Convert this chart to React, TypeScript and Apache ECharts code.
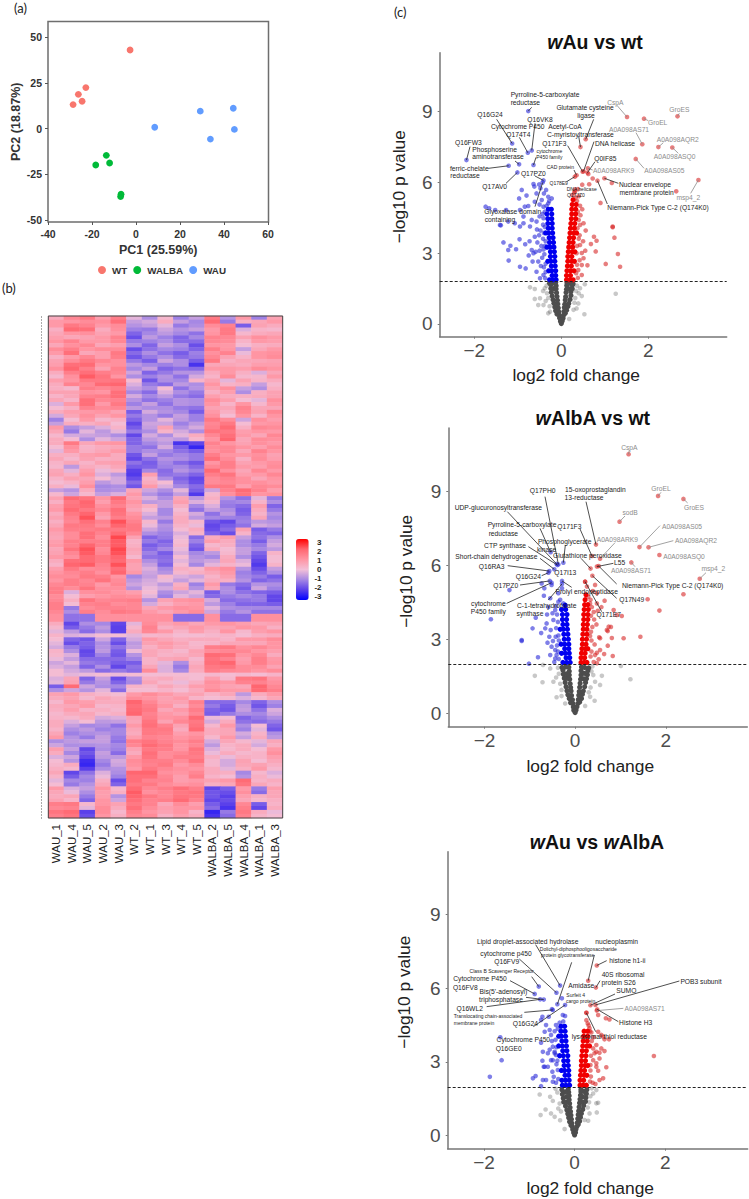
import React, { useEffect, useRef } from "react";
import * as echarts from "echarts";

const FONT = '"Liberation Sans", Arial, sans-serif';

// ---------- PCA ----------
const pcaWT = [[-2.7, 43], [-22.8, 22.4], [-26.2, 18.7], [-24.5, 14.9], [-28.6, 13.1]];
const pcaWALBA = [[-13.5, -14.7], [-12, -18.9], [-18.3, -20], [-6.8, -36], [-7, -37.3]];
const pcaWAU = [[8.5, 0.7], [29.2, 9.5], [44.2, 11.1], [44.7, -0.5], [33.8, -5.8]];
const pcaXTicks = [-40, -20, 0, 20, 40, 60];
const pcaYTicks = [-50, -25, 0, 25, 50];

// ---------- Heatmap ----------
const sampleNames = ["WAU_1", "WAU_4", "WAU_5", "WAU_2", "WAU_3", "WT_2", "WT_1", "WT_3", "WT_4", "WT_5", "WALBA_2", "WALBA_5", "WALBA_4", "WALBA_1", "WALBA_3"];
const heatTop = [
  [.5, 1.3, 1.6, .8, 1.5, -.2, -.9, .2, -1.1, -.6, 1.6, -.8, .9, -1.1, .7],
  [.9, 1.6, 1.4, .9, 1.2, -.8, -.6, -.2, -1.2, -.9, 1.2, 1.4, -1.6, .7, .5],
  [.6, 1.0, 1.1, .7, .9, -1.5, -1.0, -.7, -1.0, -1.3, 1.0, 1.6, .2, .5, .6],
  [1.0, 1.4, .9, .9, 1.3, -1.2, -1.1, -.9, -1.4, -1.4, 1.3, 1.2, .3, .9, .8],
  [1.2, 1.5, 1.0, 1.2, 1.2, -1.8, -1.3, -1.0, -1.1, -1.5, 1.5, 1.0, -.6, .6, .9],
  [.4, .9, 1.3, .8, 1.5, -1.7, -1.2, -.9, -1.4, -1.2, 1.3, .7, .3, 1.0, 1.2],
  [.8, 1.8, 1.9, 1.0, 1.1, -.7, -1.0, -1.1, -.9, -2.2, .6, .6, .5, .8, .8],
  [.5, 1.5, 1.8, 1.5, 1.3, -.5, -1.5, -1.2, -.8, -.8, .5, .9, .4, -.3, .6],
  [.8, 1.0, 1.6, 1.6, 1.7, .1, -1.7, -.9, -1.0, .3, .7, -.2, .7, .3, .5],
  [.4, .2, 1.5, 1.3, 1.5, -.6, -.9, .1, -1.3, -.8, .7, 1.1, -.6, -.9, .4],
  [.3, .6, 1.4, 1.5, 1.8, -.4, -1.0, -.7, -1.2, -1.4, .8, .5, .4, .5, .7],
  [-.3, .9, 1.8, .9, 1.6, -1.1, -.6, -1.3, -.8, -.9, 1.0, .3, 1.0, .2, .9],
  [.5, .8, .9, 1.0, .7, -1.6, -.4, -.8, -1.0, -1.6, .9, .4, 1.3, .7, 1.3],
  [-1.1, .1, .9, .2, .4, -1.5, -.8, -.2, -.7, -1.1, 1.6, 1.2, -.5, 1.1, .8],
  [.9, -.9, -.6, -.3, .3, -1.6, -.6, .7, -.8, -.4, 1.4, 1.9, .4, 1.3, 1.2],
  [.2, -.4, -.5, -.6, -.9, -1.9, -.4, -.9, -.2, .5, 1.3, 1.8, .9, .6, 1.3],
  [.5, 1.6, .6, .9, 1.0, -1.5, -1.0, -.7, -2.2, -1.9, 1.4, 1.0, .7, 1.1, .9],
  [-.2, .9, .4, .6, .9, -1.2, -.9, -1.0, -1.3, -1.6, 1.1, 1.3, .6, 1.4, 1.0],
  [.6, .2, .7, .4, .5, -1.9, -1.3, -.8, -.9, -1.2, 1.8, 1.2, .4, 1.2, .8],
  [.2, -.7, .5, .3, .6, -1.6, -1.5, -1.1, -1.0, -1.4, 1.3, 1.5, .9, .8, 1.2],
  [.7, .4, 1.0, -.3, -.7, -2.1, .8, -1.3, -1.2, -1.5, 1.5, 1.7, .8, .9, 1.3],
  [.1, .3, .8, -.7, -.4, -1.4, .5, .1, -1.3, -1.8, 1.2, 1.3, 1.1, 1.1, .9],
  [-.6, -.8, .5, -.9, -.8, .6, -.5, -.9, -.2, -1.6, -.5, 1.4, 1.9, 1.4, .8],
];
const heatTopB = [
  [.9, 1.0, 1.2, 1.1, 1.8, -.6, -.4, .5, -.6, -1.0, 1.9, -1.2, .4, .6, .9],
  [.4, 1.9, 1.8, .5, 1.1, -1.1, -1.2, -.5, -.8, -.6, .9, 1.6, -.3, .3, .2],
  [.8, .6, .7, .9, 1.4, -1.8, -.7, -1.1, -1.5, -1.0, 1.4, 1.3, .7, 1.1, .9],
  [.6, 1.1, 1.3, .6, .8, -.9, -1.5, -.6, -.9, -1.8, 1.0, .9, .1, .4, .5],
  [.9, 1.8, .6, .8, 1.6, -1.4, -.9, -1.3, -1.6, -1.1, 1.1, 1.4, -.1, 1.0, 1.1],
  [.7, 1.2, 1.6, 1.3, 1.1, -1.2, -1.6, -.5, -.9, -1.6, 1.6, .4, .6, .6, .7],
  [1.1, 2.0, 1.5, .7, 1.4, -1.0, -.6, -1.5, -1.3, -1.4, .9, .9, .8, 1.2, 1.0],
  [.2, 1.1, 2.1, 1.7, 1.0, -.9, -1.1, -.8, -1.3, -.4, .3, 1.2, .2, .2, .9],
  [.5, 1.4, 1.3, 1.9, 2.0, -.3, -1.2, -1.4, -.7, -.9, 1.0, .3, .4, -.6, .2],
  [.7, .7, 1.1, 1.0, 1.8, -1.0, -1.4, -.3, -.9, -1.2, .4, .8, -.9, .4, .7],
  [.6, .3, 1.8, 1.3, 1.4, -.8, -1.3, -1.1, -.8, -.9, 1.2, .8, .1, -.2, 1.1],
  [.1, .4, 1.4, 1.2, 1.3, -.7, -.9, -.9, -1.2, -1.3, .7, .6, 1.4, .6, .6],
  [-.4, .6, 1.1, .7, 1.0, -1.2, -.8, -1.2, -.6, -1.1, 1.1, .1, 1.0, .3, 1.0],
  [-.6, .5, .4, .6, .1, -1.9, -.5, -.5, -1.1, -.7, 1.3, 1.6, .1, .9, 1.0],
  [.6, -1.2, -.2, -.7, -.2, -1.2, -.9, .3, -.4, -.9, 1.7, 1.6, .8, 1.0, .9],
  [.5, .1, -.9, -.2, -.5, -1.5, -.7, -.5, -.7, .2, 1.0, 2.0, .6, 1.2, 1.1],
  [.1, 1.1, .3, .5, .6, -1.2, -1.3, -.4, -1.6, -2.4, 1.2, 1.3, 1.0, .8, 1.2],
  [.4, .4, .8, .9, .5, -1.7, -.6, -1.2, -1.0, -1.2, 1.5, 1.0, .9, 1.1, .7],
  [.3, .6, .3, .7, .8, -1.3, -1.6, -1.0, -1.4, -1.7, 1.0, 1.5, .7, .9, 1.1],
  [.6, -.2, .8, -.1, .3, -2.0, -1.0, -1.4, -.8, -1.1, 1.9, 1.1, .6, 1.3, .9],
  [.3, .7, .6, .1, -.4, -1.8, .3, -.9, -1.5, -1.9, 1.2, 1.4, 1.1, .6, 1.0],
  [.4, -.1, 1.1, -1.0, -.9, -1.7, .9, -.3, -1.0, -1.4, 1.6, 1.6, .8, 1.3, 1.2],
  [.2, -.5, .2, -.6, -.3, .9, -.8, -1.2, -.6, -2.1, .2, 1.1, 1.7, 1.0, 1.1],
];
const heatMiddle = [
  [.7, 1.9, 1.7, 1.0, 1.9, .7, -.3, -.9, .6, -.7, .4, -.8, -1.3, -.2, -1.2],
  [.8, 1.7, 1.9, 1.1, 1.4, .8, .4, -.6, .4, -1.0, -.3, -1.2, -1.4, .8, -1.5],
  [.5, 1.6, 2.0, .9, 1.7, 1.0, -.3, -1.0, .3, -.4, -1.3, -.7, -1.5, .3, -.8],
  [.4, 1.3, 1.8, 1.4, 2.2, 1.4, .2, -1.2, .5, .2, -1.7, -1.9, -1.1, -.7, -.8],
  [.9, 1.5, 1.5, 1.6, 1.6, 1.6, -.5, -.9, .1, .5, -1.8, -1.4, .7, -1.6, -1.2],
  [.6, 1.2, 1.8, 1.2, 2.3, .7, -1.5, -1.2, -.1, -1.4, .5, .8, -.6, -1.3, -.9],
  [.9, 1.4, 2.0, 1.5, 2.1, .4, -1.6, -1.3, .2, -1.5, .2, .4, -.9, -1.2, -.4],
  [.7, 1.3, 2.1, 1.3, 2.2, .5, -1.1, -1.6, -.3, -1.0, -.7, .2, -.6, -1.5, .3],
  [.5, 1.8, 1.9, 1.6, 1.9, .9, -.9, -1.3, -.2, -.7, -.5, .6, -.3, -1.9, .1],
  [.8, 1.6, 1.2, 1.3, 1.8, .7, -.3, -1.0, .4, .2, .9, 1.1, -.8, -1.8, -.6],
  [1.2, 1.2, 1.6, 1.5, 1.0, -1.0, -.6, .2, -.3, -.5, .3, .7, -1.0, -1.2, -1.6],
  [1.3, 1.5, 1.4, .9, 1.3, -.5, -.3, -.7, .4, -1.1, .9, -1.2, -1.4, -.8, -.9],
  [1.5, -.3, 1.1, 1.2, 1.0, .8, .1, -.9, -.5, -.2, -1.6, -.9, -1.3, -1.5, -1.6],
  [1.3, .4, 1.7, 1.3, 1.4, 1.5, -.8, .7, 1.0, 1.1, -.4, -1.4, -1.3, -1.2, -1.9],
  [1.5, -1.2, 1.2, 1.4, 1.4, 1.3, .6, .9, 1.1, 1.0, -.2, -.9, -1.0, -1.0, -1.0],
  [1.1, -1.3, -1.3, 1.1, 1.1, 1.1, 1.1, 1.1, -1.4, -1.4, 1.1, -1.4, -1.4, 1.1, 1.1],
];
const heatMiddleB = [
  [.4, 1.6, 2.0, .8, 1.6, 1.0, -.7, -.6, .8, -.3, .2, -1.1, -1.0, .3, -.9],
  [.9, 1.9, 1.6, 1.3, 1.8, .6, .1, -1.0, .1, -1.3, -.6, -.9, -1.6, .5, -1.2],
  [.7, 1.4, 2.2, .7, 1.5, 1.2, -.6, -.7, .5, -.7, -1.0, -1.1, -1.2, .6, -1.0],
  [.6, 1.6, 1.6, 1.2, 2.0, 1.6, -.1, -.8, .3, -.1, -1.9, -1.6, -1.3, -.4, -.6],
  [.7, 1.2, 1.8, 1.4, 1.9, 1.3, -.9, -1.1, -.3, .3, -1.5, -1.8, .3, -1.4, -1.5],
  [.8, 1.5, 1.5, 1.5, 2.1, .3, -1.2, -1.5, .1, -1.1, .8, .5, -.9, -1.6, -.6],
  [.6, 1.7, 2.2, 1.2, 2.3, .6, -1.4, -1.0, -.1, -1.7, .5, .1, -.6, -1.0, -.7],
  [.9, 1.1, 1.9, 1.6, 2.0, .2, -1.3, -1.4, .1, -.8, -1.0, .5, -.9, -1.7, .1],
  [.3, 2.0, 2.1, 1.4, 2.2, .7, -.6, -1.5, .1, -1.0, -.2, .3, -.1, -2.1, .3],
  [1.0, 1.3, 1.5, 1.1, 2.0, .9, -.5, -.8, .2, .4, .6, .9, -1.1, -1.5, -.9],
  [1.0, 1.5, 1.3, 1.7, 1.2, -.7, -.4, -.1, -.6, -.2, .5, .4, -.8, -1.5, -1.3],
  [1.5, 1.2, 1.7, 1.1, 1.1, -.8, -.1, -.4, .6, -.8, .6, -.9, -1.6, -.5, -1.1],
  [1.2, .1, .8, 1.0, 1.2, 1.1, -.2, -1.1, -.2, -.5, -1.4, -1.2, -1.0, -1.2, -1.9],
  [1.5, .1, 1.4, 1.5, 1.2, 1.3, -.4, .4, .8, .9, -.7, -1.1, -1.5, -1.5, -1.6],
  [1.3, -.9, 1.5, 1.2, 1.6, 1.5, .9, .6, .9, 1.2, -.5, -1.2, -.8, -1.3, -1.3],
  [1.1, -1.3, -1.3, 1.1, 1.1, 1.1, 1.1, 1.1, -1.4, -1.4, 1.1, -1.4, -1.4, 1.1, 1.1],
];
const heatBottom = [
  [.5, -1.9, -.9, -1.0, -1.9, -.2, 1.2, .7, .9, .6, .9, 1.0, .8, .6, .7],
  [-.2, -.7, -1.4, -.9, -2, .5, 1.3, .9, .3, .8, .4, 1.0, .2, .8, 1.0],
  [.1, -1.5, -1.7, -.5, -1.5, -.4, .9, .6, .4, .5, .5, .3, .9, .9, 1.2],
  [-.4, -1.2, -1.6, -.8, -1.3, -.6, .4, .8, .5, .3, 1.5, 1.6, 1.1, 1.3, 1.0],
  [.2, -.3, -1.8, -1.1, -1.7, -.8, .6, .3, .4, .6, 1.9, 1.8, 1.0, 1.3, .5],
  [-.5, -.2, -1.2, -1.3, -1.6, -1.6, .3, -.2, -.9, .4, 1.8, 2.0, .9, 1.5, 1.0],
  [.1, -.4, -.7, -1.4, -1.2, -1.4, 1.2, -.3, -1.0, .5, 1.5, 1.3, 1.2, 1.0, 1.2],
  [-.3, .6, -1.5, -.6, -1.8, -.9, .4, .5, .2, .1, .8, .2, 1.6, 1.7, .9],
  [-1.6, 1.9, -.5, -.9, -1.0, .3, .2, .6, .3, .8, 1.0, .7, .6, 2.0, 1.3],
  [.7, .9, .4, .2, .1, .9, 1.2, .9, .6, .7, .3, .6, -.7, .5, .9],
  [.2, .9, .8, .5, .5, 2.0, 1.3, .8, .7, 1.4, -1.4, -1.4, -1.0, -1.5, -.9],
  [.4, .8, .3, .4, .2, 1.9, 1.6, .6, .9, 1.5, -1.5, -1.7, -.6, -1.3, -.3],
  [.3, .2, .5, -.4, -.3, .7, 1.5, 1.0, 1.1, 1.9, -.1, .1, -1.5, -1.2, -.9],
  [.5, -.6, -1.0, -.9, -1.3, .9, 1.8, 1.4, .7, 1.7, .2, .9, -.9, .1, -1.5],
  [.6, -1.1, -.9, -.8, -1.0, .5, 1.6, 1.5, .8, 1.0, .5, .6, -.4, .3, -.9],
  [-.9, -.7, -.6, -.6, -1.3, 1.5, 1.7, 1.4, 1.2, 1.5, -.4, .6, .2, -.2, .6],
  [.8, -.6, -1.9, -.9, -1.1, .7, 1.6, 1.5, 1.0, 1.7, -.3, .2, .5, .1, .9],
  [-.3, -.5, -1.9, -.7, -.7, .9, 1.7, 1.2, 1.5, 1.5, .4, -.1, .4, .3, .8],
  [.2, .5, -2.4, -1.2, -.5, 1.1, 1.4, 1.6, .9, 1.2, .2, -.4, .6, .7, .4],
  [.6, -1.9, -1.3, -.3, -.9, 2.0, 2.0, 1.1, 1.0, 1.3, .5, .4, -1.0, .2, -.3],
  [-.2, -1.0, -1.1, .4, -1.8, 1.8, 1.4, 1.4, .8, .9, .7, .9, 1.9, .3, .5],
  [.9, -.3, -.6, 1.0, .2, 1.9, 1.3, 1.5, 1.8, 1.5, -1.9, -1.6, .9, -1.2, .8],
  [.5, .6, -1.2, .8, -.8, 2.0, 1.6, 1.3, 1.7, 1.6, -1.7, -2.0, .8, .4, .6],
  [1.5, 1.6, .2, 1.0, .7, 1.6, 1.4, .6, 1.2, .8, -1.6, -2.0, 1.3, -1.6, .3],
  [1.7, 1.9, -2.0, 1.2, .2, 1.5, 1.0, .7, 1.0, .3, -2.4, -1.2, 1.6, .5, -.1],
];
const heatBottomB = [
  [.2, -1.6, -1.2, -.7, -2.0, .2, 1.4, .4, .6, .9, .6, .7, 1.0, .9, .4],
  [.3, -.3, -.2, .1, .1, -.2, .2, .3, .1, .1, .2, .3, .1, .4, .5],
  [-.2, -1.8, -1.5, -.9, -1.8, -.7, .7, .9, .6, .2, .3, .6, .6, .6, 1.0],
  [.3, -.9, -1.9, -.7, -1.6, -.1, .6, .4, .2, .7, 1.2, 1.3, 1.3, 1.0, .8],
  [-.1, -.6, -1.4, -1.4, -1.4, -1.1, .3, .6, .7, .2, 1.7, 1.4, .8, 1.5, .9],
  [-.3, -.6, -1.5, -.9, -1.9, -1.3, .6, -.3, -1.2, .6, 1.6, 1.7, 1.2, 1.2, .7],
  [.1, -.2, -.1, .1, -.1, .1, .1, .1, .1, .1, .2, .1, .2, .1, .3],
  [-.2, .7, -1.2, -.8, -1.5, -1.0, .6, .2, -.1, .4, 1.1, .9, 1.4, 1.4, 1.1],
  [-.9, -.5, -.8, -.2, -1.4, .1, .1, .3, .1, .5, 1.2, .9, .9, 1.9, 1.5],
  [.5, .7, .2, .6, .4, 1.2, 1.0, .7, .9, .3, .1, .2, -.3, .2, .6],
  [.5, .6, .9, .2, .3, 1.8, 1.5, 1.0, .4, 1.2, -1.2, -1.6, -.7, -1.7, -1.1],
  [.2, .5, .6, .2, .4, 2.0, 1.4, .9, .7, 1.3, -1.6, -1.2, -.9, -1.0, -.5],
  [.5, -.3, .1, -.7, -.6, .6, 1.7, .7, 1.3, 1.6, -.4, .5, -1.3, -1.4, -1.2],
  [.3, -.9, -.7, -1.1, -1.0, .6, 1.6, 1.6, .5, 1.9, .5, .6, -1.1, -.2, -1.7],
  [.9, -.8, -1.2, -.6, -1.2, .8, 1.4, 1.3, 1.0, 1.2, .2, .9, -.6, .5, -.7],
  [-.5, -.9, -.9, -.8, -1.0, 1.3, 1.9, 1.6, 1.0, 1.3, -.7, .3, .5, -.4, .4],
  [.5, -1.0, -1.7, -.6, -1.4, .5, 1.8, 1.2, 1.3, 1.6, -.1, .5, .2, .3, 1.1],
  [.1, -.8, -2.3, -1.0, -.4, 1.2, 1.5, 1.5, 1.2, 1.7, .2, -.4, .7, .1, .6],
  [.4, .2, -2.0, -.9, -.8, .9, 1.6, 1.3, 1.1, 1.0, .5, -.2, .4, .9, .2],
  [.3, -1.6, -1.0, -.1, -1.1, 1.8, 1.8, 1.3, .8, 1.5, .3, .1, -.8, .4, -.1],
  [.1, -1.2, -.8, .6, -1.5, 1.6, 1.6, 1.2, 1.0, 1.1, .4, .6, 1.7, .6, .3],
  [.6, -.1, -.9, .8, .4, 2.1, 1.1, 1.3, 1.6, 1.7, -1.7, -1.8, 1.1, -1.4, .6],
  [.7, .3, -1.5, 1.0, -.5, 1.8, 1.4, 1.5, 1.9, 1.4, -1.9, -1.8, .6, .2, .4],
  [1.3, 1.4, -.2, 1.2, .5, 1.8, 1.2, .8, 1.0, 1.0, -1.4, -2.2, 1.5, -1.9, .5],
  [1.5, 1.7, -1.8, 1.0, .4, 1.3, 1.2, .4, .8, .5, -2.2, -1.4, 1.4, .3, .1],
];
const legendTicks = ["3", "2", "1", "0", "-1", "-2", "-3"];

// ---------- Volcano 1: wAu vs wt ----------
const p1Threshold = 1.79;
const p1GreyCore = [[0,.02],[-.02,.12],[.02,.13],[-.04,.25],[.04,.24],[-.05,.38],[.05,.37],[-.1,.42],[.09,.45],[-.06,.52],[.06,.53],[-.13,.56],[.12,.58],[-.07,.68],[.07,.7],[-.15,.72],[.15,.74],[-.08,.85],[.08,.84],[-.17,.88],[.17,.87],[-.09,1.0],[.09,1.01],[-.19,1.03],[.2,1.04],[-.1,1.16],[.1,1.15],[-.21,1.18],[.22,1.2],[-.11,1.32],[.11,1.33],[-.23,1.34],[.22,1.36],[-.12,1.48],[.12,1.47],[-.17,1.5],[.18,1.49],[-.24,1.5],[.25,1.49],[-.12,1.62],[.125,1.63],[-.24,1.66],[.25,1.64],[-.13,1.75],[.13,1.74],[-.2,1.74],[.2,1.73],[-.27,1.72],[.27,1.7]];
const p1GreySparse = [[-.72,1.55],[-.61,1.48],[-.49,1.09],[-.61,1.06],[-.36,.97],[-.53,.8],[-.41,.8],[-.38,1.51],[.43,1.51],[.54,1.68],[.47,1.18],[.39,.87],[.35,.66],[.53,.41],[.18,.21],[1.25,1.28],[-.26,.52],[-.3,.45],[-.33,1.3],[-.3,1.1],[-.27,.75],[-.34,1.62],[.34,1.4],[.32,1.1],[.3,.9],[.36,1.62],[.28,.6],[.4,1.3],[-.42,1.4]];
const p1BlueCore = [[-.12,1.87],[-.2,1.87],[-.27,1.87],[-.13,2.05],[-.21,2.05],[-.13,2.25],[-.22,2.25],[-.29,2.25],[-.14,2.45],[-.23,2.45],[-.15,2.65],[-.24,2.65],[-.31,2.65],[-.15,2.85],[-.25,2.85],[-.16,3.05],[-.25,3.05],[-.17,3.25],[-.26,3.25],[-.33,3.25],[-.18,3.45],[-.27,3.45],[-.19,3.65],[-.28,3.65],[-.2,3.85],[-.29,3.85],[-.36,3.85],[-.21,4.05],[-.3,4.05],[-.21,4.25],[-.31,4.25],[-.22,4.45],[-.31,4.45],[-.22,4.65],[-.33,4.65],[-.23,4.85],[-.3,4.85]];
const p1RedCore = [[.12,1.87],[.2,1.87],[.27,1.87],[.12,2.05],[.21,2.05],[.13,2.25],[.21,2.25],[.29,2.25],[.14,2.45],[.23,2.45],[.15,2.65],[.24,2.65],[.3,2.65],[.15,2.85],[.24,2.85],[.16,3.05],[.25,3.05],[.31,3.05],[.17,3.25],[.26,3.25],[.18,3.45],[.27,3.45],[.19,3.65],[.28,3.65],[.2,3.85],[.29,3.85],[.35,3.85],[.21,4.05],[.3,4.05],[.22,4.25],[.31,4.25],[.23,4.45],[.33,4.45],[.24,4.65],[.33,4.65],[.24,4.85],[.33,4.85],[.25,5.05],[.34,5.05],[.27,5.25]];
const p1BlueSparse = [[-.64,5.92],[-.51,5.9],[-.62,5.81],[-.48,5.74],[-.35,5.67],[-.57,5.52],[-.4,5.52],[-.91,5.67],[-.8,5.43],[-.97,5.31],[-.61,5.17],[-.45,5.24],[-.3,5.38],[-.22,5.31],[-1.74,4.96],[-1.66,4.89],[-1.52,4.82],[-1.27,4.82],[-.84,4.96],[-.76,4.99],[-.95,4.82],[-.41,4.96],[-.3,5.1],[-1.41,4.19],[-1.07,4.26],[-1.22,4.33],[-.87,4.54],[-.68,4.4],[-.57,4.33],[-.41,4.47],[-.95,4.12],[-.72,4.12],[-1.39,4.17],[-1.33,3.45],[-1.17,3.31],[-1.21,2.68],[-1.04,3.16],[-1.22,3.13],[-.96,3.58],[-.83,3.37],[-.95,2.42],[-.82,2.35],[-.68,3.13],[-.64,2.99],[-.61,3.69],[-.87,4.26],[-.66,2.64],[-.53,2.64],[-.57,2.21],[-.41,2.07],[-.49,1.93],[-.4,2.4],[-.44,2.8],[-.5,3.1],[-.38,3.3],[-.42,3.6],[-.48,3.95],[-.42,4.2],[-.36,2.2],[-.55,3.45],[-.37,1.93],[-.36,2.55],[-.39,2.95],[-.36,3.5],[-.41,3.15],[-.4,3.85],[-.38,4.1],[-.43,4.65],[-.5,4.55],[-.38,4.75],[-.46,3.3],[-.47,2.45],[-.51,3.75],[-.59,3.05],[-.56,4.0],[-.75,2.9],[-.73,3.5],[-.34,5.0],[-.28,5.2],[-.5,5.05]];
const p1RedSparse = [[1.16,5.96],[2.64,5.61],[.62,6.34],[.72,6.15],[.64,5.91],[.48,5.89],[.9,5.12],[1.18,4.09],[.4,5.4],[.3,5.55],[.38,5.7],[.25,5.45],[1.18,4.12],[1.22,3.65],[.75,3.69],[.81,3.52],[.68,3.38],[.79,3.07],[1.3,2.96],[1.02,2.54],[1.35,2.42],[.6,2.48],[.51,2.78],[.43,3.34],[.47,2.49],[.39,2.28],[.47,2.07],[.35,2.99],[.43,4.19],[.51,4.26],[.42,3.75],[.36,2.5],[.38,1.95],[.44,4.6],[.55,3.1],[.48,4.85],[.34,2.15],[.36,3.3],[.4,3.6],[.37,4.05],[.4,4.4],[.38,4.75],[.43,5.0],[.36,5.2],[.33,5.35],[.42,2.7],[.47,3.0],[.5,3.5],[.56,3.95],[.31,5.6]];
const p1Hits = [[1.51,8.75],[2.67,8.78],[1.9,8.68],[1.86,7.6],[2.23,7.48],[2.55,7.46],[1.71,6.98],[.61,6.58],[3.15,6.09],[-.76,9.0],[.56,7.81],[-1.13,7.63],[-.68,7.34],[-.77,7.24],[.44,7.48],[.49,6.44],[.51,6.46],[.6,6.4],[-2.18,6.93],[-.97,6.75],[-.64,6.72],[-1.21,6.69],[.35,6.29],[-.41,6.07],[-1.01,6.41],[.31,6.23],[.31,5.69],[.99,6.16],[.83,6.06],[-.43,5.98]];
const p1Leads = [[590,225],[778,250],[685,272],[648,308],[730,338],[775,370],[672,415],[518,420],[812,490],[335,232],[521,268],[230,268],[345,280],[298,322],[476,318],[443,347],[522,335],[525,395],[150,350],[285,393],[348,382],[205,415],[462,420],[345,438],[258,460],[440,455],null,[595,460],[562,522],[345,530]];
const p1Notes = [["CspA",586,217,"g"],["GroES",778,238,"g"],["GroEL",713,278,"g"],["A0A098AS71",627,298,"g"],["A0A098AQR2",773,329,"g"],["A0A098ASQ0",764,380,"g"],["A0A098AS05",733,420,"g"],["A0A098ARK9",581,421,"g"],["msp4_2",805,503,"g"],
["Pyrroline-5-carboxylate",375,192,"k"],["reductase",316,217,"k"],["Glutamate cysteine",495,233,"k"],["ligase",498,257,"k"],["Q16G24",210,253,"k"],["Q16VK8",360,267,"k"],["Cytochrome P450",293,290,"k"],["Q174T4",295,312,"k"],["Acetyl-CoA",435,290,"k"],["C-myristoyltransferase",481,313,"k"],["Q171F3",403,340,"k"],["DNA helicase",585,340,"k"],["Q0IF85",556,385,"k"],["Q16FW3",145,338,"k"],["Phosphoserine",224,358,"k"],["aminotransferase",234,380,"k"],["cytochrome",388,364,"s"],["P450 family",388,382,"s"],["ferric-chelate",148,415,"k"],["reductase",135,437,"k"],["CAD protein",421,410,"s"],["Q17PZ0",340,429,"k"],["Q17AV0",224,470,"k"],["Q178E9",416,460,"s"],["DNA helicase",485,478,"s"],["Q17JZ0",468,495,"s"],["Nuclear envelope",675,462,"k"],["membrane protein",680,486,"k"],["Niemann-Pick Type C-2 (Q174K0)",714,533,"k"],["Glyoxalase domain",278,543,"k"],["containing",240,568,"k"]];

// ---------- Volcano 2: wAlbA vs wt ----------
const p2Threshold = 1.98;
const p2GreyCore = [[0,.03],[-.03,.13],[.02,.14],[-.04,.26],[.04,.27],[-.05,.4],[.06,.4],[-.1,.43],[.1,.46],[-.06,.55],[.07,.56],[-.13,.6],[.14,.6],[-.08,.72],[.08,.73],[-.16,.75],[.16,.77],[-.09,.9],[.09,.88],[-.18,.92],[.18,.9],[-.1,1.05],[.1,1.06],[-.2,1.08],[.21,1.08],[-.11,1.2],[.11,1.22],[-.22,1.25],[.23,1.25],[-.12,1.38],[.12,1.38],[-.18,1.42],[.19,1.4],[-.24,1.42],[.25,1.4],[-.13,1.55],[.13,1.55],[-.26,1.58],[.27,1.56],[-.19,1.6],[.2,1.62],[-.13,1.7],[.13,1.72],[-.27,1.74],[.28,1.72],[-.14,1.87],[.14,1.88],[-.21,1.88],[.21,1.86],[-.29,1.86],[.3,1.84]];
const p2GreySparse = [[-.89,1.52],[-.72,1.26],[-.71,1.96],[-.41,.65],[-.55,1.82],[-.48,1.28],[1.22,1.38],[1.01,1.92],[.55,1.15],[.59,1.52],[.44,1.28],[.43,.51],[.33,.67],[.22,.3],[-.36,1.6],[-.33,1.2],[-.38,1.85],[-.3,.95],[-.3,.7],[.36,1.7],[.34,1.05],[.3,.85],[.4,1.55],[-.22,.4],[.38,1.9],[-.42,1.45]];
const p2BlueCore = [[-.11,2.06],[-.19,2.06],[-.27,2.06],[-.12,2.25],[-.2,2.25],[-.13,2.43],[-.22,2.43],[-.3,2.43],[-.14,2.62],[-.23,2.62],[-.14,2.8],[-.23,2.8],[-.31,2.8],[-.15,3.0],[-.24,3.0],[-.16,3.2],[-.25,3.2],[-.17,3.4],[-.26,3.4],[-.33,3.4],[-.18,3.6],[-.27,3.6],[-.19,3.8],[-.28,3.8],[-.18,4.0],[-.28,4.0],[-.21,4.2],[-.3,4.2],[-.22,4.38]];
const p2RedCore = [[.13,2.06],[.2,2.06],[.26,2.06],[.13,2.25],[.21,2.25],[.14,2.43],[.22,2.43],[.15,2.62],[.23,2.62],[.28,2.62],[.16,2.8],[.24,2.8],[.16,3.0],[.25,3.0],[.17,3.2],[.26,3.2],[.18,3.4],[.26,3.4],[.18,3.6],[.27,3.6],[.19,3.8],[.28,3.8],[.19,4.0],[.28,4.0],[.2,4.2],[.29,4.2],[.21,4.4],[.28,4.4],[.22,4.6],[.24,4.8]];
const p2BlueSparse = [[-1.45,4.99],[-.74,5.26],[-.68,5.06],[-.52,5.2],[-.69,4.76],[-.55,4.66],[-.37,4.86],[-.29,5.06],[-.26,4.45],[-.37,4.52],[-.44,4.18],[-.59,4.3],[-.87,3.87],[-1.86,3.81],[-.94,3.44],[-1.18,2.97],[-.63,3.64],[-.48,3.78],[-.66,3.44],[-.54,3.37],[-.33,4.6],[-1.18,2.93],[-1.02,2.01],[-.82,2.27],[-.61,2.86],[-.49,2.93],[-.55,2.36],[-.44,2.56],[-.41,2.36],[-.44,2.22],[-.46,2.08],[-.36,2.2],[-.4,2.75],[-.43,3.1],[-.38,3.7],[-.75,3.25],[-.38,2.5],[-.37,3.15],[-.42,3.45],[-.4,4.0],[-.42,4.35],[-.52,2.7],[-.57,3.1],[-.5,4.05],[-.36,2.95],[-.62,4.0]];
const p2RedSparse = [[.22,5.33],[.26,5.13],[.44,5.2],[.48,4.86],[.65,4.56],[2.39,4.82],[1.6,4.62],[1.86,4.16],[1.03,3.94],[.92,3.98],[.85,4.18],[.33,4.45],[.48,4.45],[.74,3.51],[.79,3.5],[.7,3.37],[.55,3.04],[1.44,3.1],[1.07,3.04],[.41,4.1],[.29,4.72],[.72,3.33],[.81,3.05],[.83,2.32],[.72,2.74],[.64,2.4],[.55,2.56],[.53,3.08],[.43,2.79],[.33,3.13],[.48,2.45],[.44,2.36],[.52,2.19],[.41,2.08],[.48,2.03],[.36,2.5],[.38,3.5],[.42,3.8],[.34,2.3],[.36,2.95],[.35,3.3],[.37,4.3],[.35,3.95],[.34,4.6],[.47,3.6],[.5,4.15],[.39,4.95],[.58,4.3]];
const p2Hits = [[1.18,10.49],[1.83,8.8],[2.39,8.68],[.98,7.76],[1.42,6.73],[1.62,6.72],[1.86,6.41],[.55,6.26],[1.24,6.11],[2.75,5.45],[-.37,6.03],[.46,6.83],[-.41,6.05],[-.54,6.52],[.37,6.37],[-.26,6.1],[-.39,6.0],[.34,5.86],[-.46,5.83],[.48,5.94],[-.57,5.76],[-.59,5.69],[.52,5.96],[-.56,5.36],[-.29,5.36],[-.52,5.29],[.38,5.57],[-.29,5.24],[.22,5.33]];
const p2Leads = [[628,60],[723,187],[803,219],[615,258],[720,287],[760,332],null,[585,338],[645,410],[858,428],[375,200],[498,215],[262,245],[360,295],[480,297],[436,345],[325,350],[483,385],[360,385],[580,400],[263,407],[365,437],[590,462],[300,465],[455,472],[260,520],[590,505],[385,510],[545,545]];
const p2Notes = [["CspA",628,51,"g"],["GroEL",723,176,"g"],["GroES",822,231,"g"],["sodB",630,248,"g"],["A0A098AS05",786,289,"g"],["A0A098AQR2",828,332,"g"],["A0A098ASQ0",792,379,"g"],["A0A098ARK9",592,328,"g"],["A0A098AS71",633,422,"g"],["msp4_2",880,414,"g"],
["Q17PH0",368,180,"k"],["15-oxoprostaglandin",526,177,"k"],["13-reductase",492,202,"k"],["UDP-glucuronosyltransferase",235,231,"k"],["Pyrroline-5-carboxylate",306,284,"k"],["reductase",250,309,"k"],["Q171F3",448,290,"k"],["Phosphoglycerate",434,334,"k"],["kinase",380,358,"k"],["CTP synthase",255,347,"k"],["Glutathione peroxidase",502,375,"k"],["Short-chain dehydrogenase",229,380,"k"],["L55",599,397,"k"],["Q16RA3",215,410,"k"],["Q17I13",436,428,"k"],["Q16G24",325,438,"k"],["Niemann-Pick Type C-2 (Q174K0)",758,467,"k"],["Q17PZ0",257,465,"k"],["Prolyl endopeptidase",500,483,"k"],["cytochrome",205,520,"k"],["P450 family",205,544,"k"],["Q17N49",635,509,"k"],["C-1-tetrahydrofolate",380,526,"k"],["synthase",330,551,"k"],["Q171E7",566,554,"k"]];

// ---------- Volcano 3: wAu vs wAlbA ----------
const p3Threshold = 1.96;
const p3GreyCore = [[0,.02],[-.02,.11],[.02,.12],[-.04,.24],[.03,.25],[-.05,.36],[.05,.37],[-.08,.42],[.08,.45],[-.06,.5],[.06,.52],[-.11,.56],[.11,.58],[-.07,.66],[.07,.68],[-.13,.72],[.13,.74],[-.08,.82],[.08,.84],[-.15,.88],[.15,.9],[-.09,.98],[.09,1.0],[-.17,1.04],[.18,1.06],[-.1,1.14],[.1,1.16],[-.2,1.2],[.2,1.22],[-.11,1.3],[.11,1.32],[-.17,1.36],[.17,1.36],[-.24,1.36],[.24,1.38],[-.12,1.46],[.12,1.48],[-.25,1.52],[.25,1.54],[-.18,1.58],[.18,1.58],[-.12,1.62],[.13,1.64],[-.27,1.68],[.26,1.7],[-.13,1.76],[.14,1.78],[-.2,1.78],[.2,1.8],[-.14,1.88],[.14,1.87],[-.28,1.86],[.27,1.86]];
const p3GreySparse = [[-.77,1.67],[-.75,.83],[-.64,1.06],[-.54,1.58],[-.52,.9],[-.48,1.41],[-.44,.76],[-.22,.26],[.48,1.85],[.52,1.33],[.48,1.31],[.49,.94],[.29,1.14],[.33,.9],[.22,.63],[.41,1.71],[-.38,1.75],[-.33,1.3],[-.3,.98],[-.32,.62],[.35,1.6],[.38,1.92],[.3,.6],[-.42,1.9],[.32,1.35],[-.36,1.1]];
const p3BlueCore = [[-.11,2.05],[-.19,2.05],[-.27,2.05],[-.12,2.25],[-.2,2.25],[-.28,2.25],[-.13,2.45],[-.21,2.45],[-.13,2.65],[-.22,2.65],[-.29,2.65],[-.14,2.85],[-.23,2.85],[-.15,3.05],[-.24,3.05],[-.15,3.25],[-.25,3.25],[-.33,3.25],[-.17,3.45],[-.26,3.45],[-.18,3.65],[-.27,3.65],[-.35,3.65],[-.19,3.85],[-.28,3.85],[-.2,4.05],[-.29,4.05],[-.35,4.05],[-.21,4.25],[-.3,4.25],[-.22,4.45],[-.3,4.45]];
const p3RedCore = [[.12,2.05],[.19,2.05],[.26,2.05],[.12,2.25],[.2,2.25],[.13,2.45],[.21,2.45],[.27,2.45],[.14,2.65],[.22,2.65],[.15,2.85],[.23,2.85],[.29,2.85],[.15,3.05],[.24,3.05],[.16,3.25],[.25,3.25],[.17,3.45],[.26,3.45],[.18,3.65],[.27,3.65],[.33,3.65],[.19,3.85],[.28,3.85],[.2,4.05],[.29,4.05],[.21,4.25],[.29,4.25]];
const p3BlueSparse = [[-1.87,2.39],[-1.61,3.07],[-.92,2.33],[-.86,2.42],[-.74,2.01],[-.7,2.26],[-.63,2.26],[-.71,3.05],[-.7,3.41],[-.68,2.8],[-.49,2.6],[-.48,3.07],[-.44,3.35],[-.41,3.28],[-.41,2.15],[-.48,2.19],[-.46,2.39],[-.37,2.67],[-1.64,4.0],[-.63,4.5],[-.55,4.3],[-.66,4.23],[-.52,4.1],[-.74,3.78],[-.48,3.62],[-.44,3.41],[-.26,4.91],[-.21,4.87],[-.71,4.84],[-.57,4.84],[-.74,4.71],[-.66,2.8],[-.59,2.8],[-.52,3.07],[-.41,4.5],[-.42,3.9],[-.33,4.6],[-.25,4.65],[-.4,2.9],[-.36,2.3],[-.38,3.05],[-.4,3.6],[-.44,4.25],[-.5,3.85],[-.55,3.5],[-.59,3.35],[-.37,4.35]];
const p3RedSparse = [[1.75,3.24],[.26,5.0],[.29,4.57],[.33,4.37],[.52,4.23],[.59,4.1],[.63,4.03],[.52,4.91],[.69,4.78],[.77,4.73],[.66,3.92],[.76,3.92],[.48,3.69],[.59,3.55],[.44,3.35],[.55,3.14],[.48,2.94],[.7,2.78],[.48,2.8],[.52,2.64],[.63,2.33],[.55,2.26],[.41,3.07],[.35,2.87],[.48,3.41],[.66,3.44],[.55,3.37],[.36,2.4],[.4,2.15],[.46,2.1],[.37,4.2],[.42,4.0],[.31,4.48],[.34,2.2],[.35,2.65],[.36,3.25],[.38,3.85],[.41,3.55],[.34,4.25],[.26,4.7]];
const p3Hits = [[.49,5.09],[-.32,6.11],[.3,6.31],[-.38,5.35],[-.4,5.82],[.49,6.93],[-.79,6.07],[.47,6.03],[-.88,5.77],[.46,5.32],[-.68,5.54],[.35,5.31],[-.76,5.55],[-.28,5.59],[-.48,5.12],[.5,5.14],[-.21,5.32],[.26,5.0],[-.5,5.15]];
const p3Leads = [[610,265],[347,74],[523,105],[455,127],[298,117],[560,122],[335,170],[540,182],[270,182],[778,183],[318,232],[585,222],[200,260],null,[313,277],[595,305],[340,320],[527,335],null];
const p3Notes = [["A0A098AS71",674,265,"g"],["Lipid droplet-associated hydrolase",323,64,"k"],["nucleoplasmin",590,64,"k"],["Dolichyl-diphosphooligosaccharide",475,86,"s"],["protein glycotransferase",443,104,"s"],["cytochrome p450",258,101,"k"],["Q16FV9",260,125,"k"],["histone h1-ii",622,121,"k"],["Class B Scavenger Receptor",245,153,"s"],["40S ribosomal",609,164,"k"],["protein S26",596,188,"k"],["Cytochrome P450",180,176,"k"],["Q16FV8",136,201,"k"],["POB3 subunit",843,183,"k"],["Amidase",484,197,"k"],["Bis(5'-adenosyl)",250,215,"k"],["triphosphatase",243,237,"k"],["SUMO",619,210,"k"],["Surfeit 4",467,225,"s"],["cargo protein",482,244,"s"],["Q16WL2",149,265,"k"],["Translocating chain-associated",204,288,"s"],["membrane protein",162,308,"s"],["Histone H3",647,308,"k"],["Q16G24",316,310,"k"],["Cytochrome P450",310,358,"k"],["Q16GE0",266,384,"k"],["lysosomal thiol reductase",568,350,"k"]];

const volcanoXTicks = [-2, 0, 2];
const volcanoYTicks = [0, 3, 6, 9];

const mainRows = [...heatTop, ...heatMiddle, ...heatBottom];
const detailRows = [...heatTopB, ...heatMiddleB, ...heatBottomB];
const rows: number[][] = [];
mainRows.forEach((r, i) => { rows.push(r); rows.push(detailRows[i]); });
const heatData: number[][] = [];
rows.forEach((r, ri) => r.forEach((v, ci) => heatData.push([ci, ri, v])));

const panels = [
  { grid: { left: 439.7, top: 52.7, width: 287, height: 284 }, xr: [-2.795, 3.8], yr: [-0.537, 11.47], org: [420, 30], th: p1Threshold, gc: p1GreyCore, gs: p1GreySparse, bc: p1BlueCore, bs: p1BlueSparse, rc: p1RedCore, rs: p1RedSparse, hits: p1Hits, leads: p1Leads, notes: p1Notes, grayN: 9, title: "{i|w}Au vs wt", tx: 590, ty: 27, nameX: 14, yGap: 32, yShift: 16, xGap: 29.5 },
  { grid: { left: 448.3, top: 428, width: 299, height: 298.7 }, xr: [-2.8, 3.8], yr: [-0.54, 11.55], org: [420, 430], th: p2Threshold, gc: p2GreyCore, gs: p2GreySparse, bc: p2BlueCore, bs: p2BlueSparse, rc: p2RedCore, rs: p2RedSparse, hits: p2Hits, leads: p2Leads, notes: p2Notes, grayN: 10, title: "{i|w}AlbA vs wt", tx: 588, ty: 403, nameX: 15, yGap: 34, yShift: 12, xGap: 30.5 },
  { grid: { left: 447.7, top: 851.7, width: 300, height: 297 }, xr: [-2.8, 3.82], yr: [-0.54, 11.57], org: [420, 920], th: p3Threshold, gc: p3GreyCore, gs: p3GreySparse, bc: p3BlueCore, bs: p3BlueSparse, rc: p3RedCore, rs: p3RedSparse, hits: p3Hits, leads: p3Leads, notes: p3Notes, grayN: 1, title: "{i|w}Au vs {i|w}AlbA", tx: 592, ty: 827, nameX: 15, yGap: 35, yShift: 16, xGap: 30.5 },
];

function buildOption() {
  const grids: any[] = [
    { left: 48, top: 21.5, width: 220.5, height: 200.5, show: true, borderColor: "#6e6e6e", borderWidth: 1.5, backgroundColor: "#fff" },
    { left: 48.3, top: 316, width: 234.4, height: 502 },
  ];
  const xAxes: any[] = [
    { gridIndex: 0, type: "value", min: -40, max: 60.2, splitLine: { show: false },
      axisLine: { show: false, onZero: false }, axisTick: { customValues: pcaXTicks, length: 3, lineStyle: { color: "#555" } },
      axisLabel: { customValues: pcaXTicks, fontFamily: FONT, fontWeight: "bold", fontSize: 10.5, color: "#333", margin: 6 },
      name: "PC1 (25.59%)", nameLocation: "middle", nameGap: 21, nameTextStyle: { fontFamily: FONT, fontWeight: "bold", fontSize: 12.5, color: "#333" } },
    { gridIndex: 1, type: "category", data: sampleNames, axisLine: { show: false }, axisTick: { show: false },
      axisLabel: { interval: 0, rotate: 90, fontFamily: FONT, fontSize: 11.5, color: "#222", margin: 6, padding: [13, 0, 0, 0] } },
  ];
  const yAxes: any[] = [
    { gridIndex: 0, type: "value", min: -51.2, max: 58.6, splitLine: { show: false },
      axisLine: { show: false, onZero: false }, axisTick: { customValues: pcaYTicks, length: 3, lineStyle: { color: "#555" } },
      axisLabel: { customValues: pcaYTicks, fontFamily: FONT, fontWeight: "bold", fontSize: 10.5, color: "#333", margin: 6 },
      name: "PC2 (18.87%)", nameLocation: "middle", nameGap: 25, nameTextStyle: { fontFamily: FONT, fontWeight: "bold", fontSize: 12.5, color: "#333" } },
    { gridIndex: 1, type: "category", inverse: true, data: rows.map((_, i) => String(i)), axisLine: { show: false }, axisTick: { show: false }, axisLabel: { show: false } },
  ];
  const series: any[] = [
    { name: "WT", type: "scatter", xAxisIndex: 0, yAxisIndex: 0, data: pcaWT, symbolSize: 6.8, itemStyle: { color: "#F8766D", opacity: 1 } },
    { name: "WALBA", type: "scatter", xAxisIndex: 0, yAxisIndex: 0, data: pcaWALBA, symbolSize: 6.8, itemStyle: { color: "#00BA38", opacity: 1 } },
    { name: "WAU", type: "scatter", xAxisIndex: 0, yAxisIndex: 0, data: pcaWAU, symbolSize: 6.8, itemStyle: { color: "#619CFF", opacity: 1 } },
    { name: "heat", type: "heatmap", xAxisIndex: 1, yAxisIndex: 1, data: heatData, itemStyle: { borderWidth: 0 }, progressive: 0 },
  ];
  const titles: any[] = [];
  const graphics: any[] = [
    { type: "text", x: 14, y: 1, style: { text: "(a)", fontFamily: "Lato", fontSize: 13, fill: "#222" } },
    { type: "text", x: 2, y: 281, style: { text: "(b)", fontFamily: "Lato", fontSize: 13, fill: "#222" } },
    { type: "text", x: 394, y: 5, style: { text: "(c)", fontFamily: "Lato", fontSize: 13, fill: "#222" } },
    { type: "line", shape: { x1: 41.5, y1: 316, x2: 41.5, y2: 820 }, style: { stroke: "#aaa", lineWidth: 1, lineDash: [2, 1] } },
    { type: "rect", shape: { x: 48.3, y: 316, width: 234.4, height: 502 }, style: { fill: "none", stroke: "#444", lineWidth: 1 }, z: 20 },
  ];

  panels.forEach((p, i) => {
    const gi = i + 2;
    grids.push(p.grid);
    titles.push({ text: p.title, left: p.tx, top: p.ty, textAlign: "center",
      textStyle: { fontFamily: FONT, fontWeight: "bold", fontSize: 19.5, color: "#111",
        rich: { i: { fontFamily: FONT, fontStyle: "italic", fontWeight: "bold", fontSize: 19.5, color: "#111" } } } });
    xAxes.push({ gridIndex: gi, type: "value", min: p.xr[0], max: p.xr[1], splitLine: { show: false },
      axisLine: { onZero: false, lineStyle: { color: "#777", width: 1.5 } },
      axisTick: { customValues: volcanoXTicks, length: 2, lineStyle: { color: "#777" } },
      axisLabel: { customValues: volcanoXTicks, fontFamily: FONT, fontSize: 19, color: "#4d4d4d", margin: 4, formatter: (v: number) => (v < 0 ? "\u2212" + Math.abs(v) : String(v)) },
      name: "log2 fold change", nameLocation: "middle", nameGap: p.xGap,
      nameTextStyle: { fontFamily: FONT, fontSize: 17.4, color: "#222", padding: [0, p.nameX, 0, 0] } });
    yAxes.push({ gridIndex: gi, type: "value", min: p.yr[0], max: p.yr[1], splitLine: { show: false },
      axisLine: { onZero: false, lineStyle: { color: "#777", width: 1.5 } },
      axisTick: { customValues: volcanoYTicks, length: 2, lineStyle: { color: "#777" } },
      axisLabel: { customValues: volcanoYTicks, fontFamily: FONT, fontSize: 19, color: "#4d4d4d", margin: 7 },
      name: "\u2212log10 p value", nameLocation: "middle", nameGap: p.yGap,
      nameTextStyle: { fontFamily: FONT, fontSize: 17.3, color: "#222", padding: [0, 0, 0, p.yShift] } });
    const sc = (data: number[][], color: string, opacity: number, size: number) => ({
      type: "scatter", xAxisIndex: gi, yAxisIndex: gi, data, symbolSize: size, silent: true, itemStyle: { color, opacity },
    });
    const hitsUp = p.hits.filter((h) => h[0] > 0);
    const hitsDown = p.hits.filter((h) => h[0] < 0);
    series.push({
      ...sc(p.gs, "#555", 0.32, 4.6),
      markLine: { silent: true, symbol: "none", label: { show: false }, lineStyle: { type: [3, 2], color: "#222", width: 1 }, data: [{ yAxis: p.th }] },
    });
    series.push(sc(p.gc, "#4d4d4d", 1, 5.2));
    series.push(sc([...p.bs, ...hitsDown], "#2a2ad8", 0.6, 4.6));
    series.push(sc(p.bc, "#0000f0", 1, 5.2));
    series.push(sc([...p.rs, ...hitsUp], "#d62020", 0.58, 4.6));
    series.push(sc(p.rc, "#f00000", 1, 5.2));
    series.push({
      type: "custom", coordinateSystem: "cartesian2d", xAxisIndex: gi, yAxisIndex: gi, silent: true, z: 6, clip: false,
      encode: { x: 0, y: 1 }, data: p.hits,
      renderItem: (params: any, api: any) => {
        const l = p.leads[params.dataIndex];
        if (!l) return null;
        const pt = api.coord([api.value(0), api.value(1)]);
        return { type: "line", shape: { x1: p.org[0] + l[0] / 3, y1: p.org[1] + l[1] / 3, x2: pt[0], y2: pt[1] },
          style: { stroke: params.dataIndex < p.grayN ? "#8a8a8a" : "#222", lineWidth: 0.8 } };
      },
    });
    (p.notes as any[]).forEach((n) => {
      graphics.push({ type: "text", z: 30, x: p.org[0] + n[1] / 3, y: p.org[1] + n[2] / 3,
        style: { text: n[0], fontFamily: FONT, fontSize: n[3] === "s" ? 5 : 6.7, fill: n[3] === "g" ? "#8c8c8c" : "#1c1c1c", textAlign: "center", textVerticalAlign: "middle" } });
    });
  });

  // colour-bar tick labels, on an axis of their own beside the bar
  grids.push({ left: 321.5, top: 537.5, width: 1, height: 63 });
  xAxes.push({ gridIndex: 5, type: "value", show: false });
  yAxes.push({ gridIndex: 5, type: "category", inverse: true, data: legendTicks, axisLine: { show: false }, axisTick: { show: false },
    axisLabel: { interval: 0, fontFamily: FONT, fontWeight: "bold", fontSize: 8, color: "#222", margin: 0 } });

  return {
    animation: false,
    backgroundColor: "#fff",
    textStyle: { fontFamily: FONT },
    title: titles,
    grid: grids,
    xAxis: xAxes,
    yAxis: yAxes,
    legend: { data: ["WT", "WALBA", "WAU"], left: 98, top: 265, padding: 0, itemWidth: 8, itemHeight: 8, itemGap: 6, icon: "circle",
      textStyle: { fontFamily: FONT, fontWeight: "bold", fontSize: 9.8, color: "#333", padding: [0, 0, 0, 1] } },
    visualMap: { type: "continuous", min: -3, max: 3, seriesIndex: 3, dimension: 2, left: 296, top: 539, padding: 0, itemWidth: 12.7, itemHeight: 61, calculable: false,
      inRange: { color: ["#0000ff", "#5a40ea", "#a688e4", "#f3c0d8", "#ff95a3", "#ff6670", "#ff0000"] } },
    graphic: graphics,
    series,
  };
}

export default function App() {
  const ref = useRef<HTMLDivElement>(null);
  useEffect(() => {
    const chart = echarts.init(ref.current!, undefined, { renderer: "svg" });
    chart.setOption(buildOption() as any);
    return () => chart.dispose();
  }, []);
  return <div ref={ref} style={{ position: "absolute", left: 0, top: 0, width: 749, height: 1199 }} />;
}
